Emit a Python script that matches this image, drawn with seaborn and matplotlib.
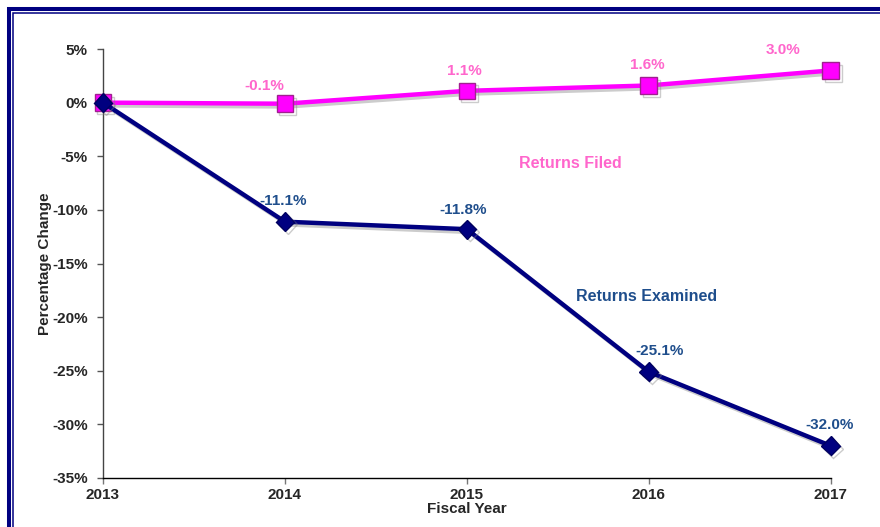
import matplotlib
matplotlib.use("Agg")
import matplotlib.pyplot as plt
import matplotlib.patheffects as pe
from matplotlib.patches import Rectangle
import seaborn as sns
import pandas as pd

years = [2013, 2014, 2015, 2016, 2017]
returns_filed = [0.0, -0.1, 1.1, 1.6, 3.0]
returns_examined = [0.0, -11.1, -11.8, -25.1, -32.0]
filed_labels = ["", "-0.1%", "1.1%", "1.6%", "3.0%"]
examined_labels = ["", "-11.1%", "-11.8%", "-25.1%", "-32.0%"]
y_ticks = [5, 0, -5, -10, -15, -20, -25, -30, -35]

sns.set_theme(style="white")
plt.rcParams['font.family'] = ['Liberation Sans', 'DejaVu Sans']

fig = plt.figure(figsize=(8.8, 5.27), dpi=100)
ax = fig.add_axes([0.117, 0.093, 0.827, 0.814])

df = pd.DataFrame({"year": years, "filed": returns_filed, "examined": returns_examined})

shadow = [pe.SimpleLineShadow(offset=(2, -2), shadow_color='gray', alpha=0.4), pe.Normal()]

sns.lineplot(data=df, x="year", y="filed", ax=ax, color="#FF00FF", lw=3.2,
             marker="s", markersize=12, markerfacecolor="#FF00FF",
             markeredgecolor="#A0208F", markeredgewidth=1.0, path_effects=shadow, zorder=3)
sns.lineplot(data=df, x="year", y="examined", ax=ax, color="#000080", lw=3.2,
             marker="D", markersize=9.5, markerfacecolor="#000080",
             markeredgecolor="#000060", markeredgewidth=1.0, path_effects=shadow, zorder=4)

pink = "#FF66CC"
blue = "#1F4E8C"
fs_lab = 11
filed_off = [(0, 0), (-15, 8), (-2, 9), (-1, 10), (-34, 10)]
exam_off = [(0, 0), (-1, 10), (-3, 9), (8, 10), (-1, 10)]
for x, y, t, o in zip(years, returns_filed, filed_labels, filed_off):
    if t:
        ax.annotate(t, (x, y), xytext=o, textcoords="offset points", ha="center", va="bottom",
                    color=pink, fontsize=fs_lab, fontweight="bold")
for x, y, t, o in zip(years, returns_examined, examined_labels, exam_off):
    if t:
        ax.annotate(t, (x, y), xytext=o, textcoords="offset points", ha="center", va="bottom",
                    color=blue, fontsize=fs_lab, fontweight="bold")

ax.text(2015.57, -5.7, "Returns Filed", color=pink, fontsize=11.5, fontweight="bold", ha="center", va="center")
ax.text(2015.99, -18.1, "Returns Examined", color=blue, fontsize=11.5, fontweight="bold", ha="center", va="center")

ax.set_xlim(2013, 2017)
ax.set_ylim(-35, 5)
ax.set_xticks(years)
ax.set_xticklabels([str(y) for y in years], fontsize=11, fontweight="bold")
ax.set_yticks(y_ticks)
ax.set_yticklabels([f"{v}%" for v in y_ticks], fontsize=11, fontweight="bold")
ax.tick_params(axis="y", direction="out", length=4, width=1, color="#555555", pad=7, left=True)
ax.tick_params(axis="x", direction="out", length=4, width=1, color="#777777", pad=3, bottom=True)
ax.set_xlabel("Fiscal Year", fontsize=11, fontweight="bold", labelpad=0)
ax.set_ylabel("Percentage Change", fontsize=11, fontweight="bold", labelpad=0)
for s in ["top", "right"]:
    ax.spines[s].set_visible(False)
ax.spines["left"].set_color("#444444")
ax.spines["bottom"].set_color("black")
ax.spines["left"].set_linewidth(1)
ax.spines["bottom"].set_linewidth(1)
for l in ax.get_lines():
    l.set_clip_on(False)

# navy double frame
W, H = 880, 527
fig.patches.append(Rectangle((9 / W, -0.1), 1.2, 1.1 - 9 / H, transform=fig.transFigure,
                             fill=False, edgecolor="#000080", lw=2.9))
fig.patches.append(Rectangle((13.2 / W, -0.1), 1.2, 1.1 - 13.2 / H, transform=fig.transFigure,
                             fill=False, edgecolor="#000080", lw=1.1))

fig.savefig("out.png", dpi=100)
